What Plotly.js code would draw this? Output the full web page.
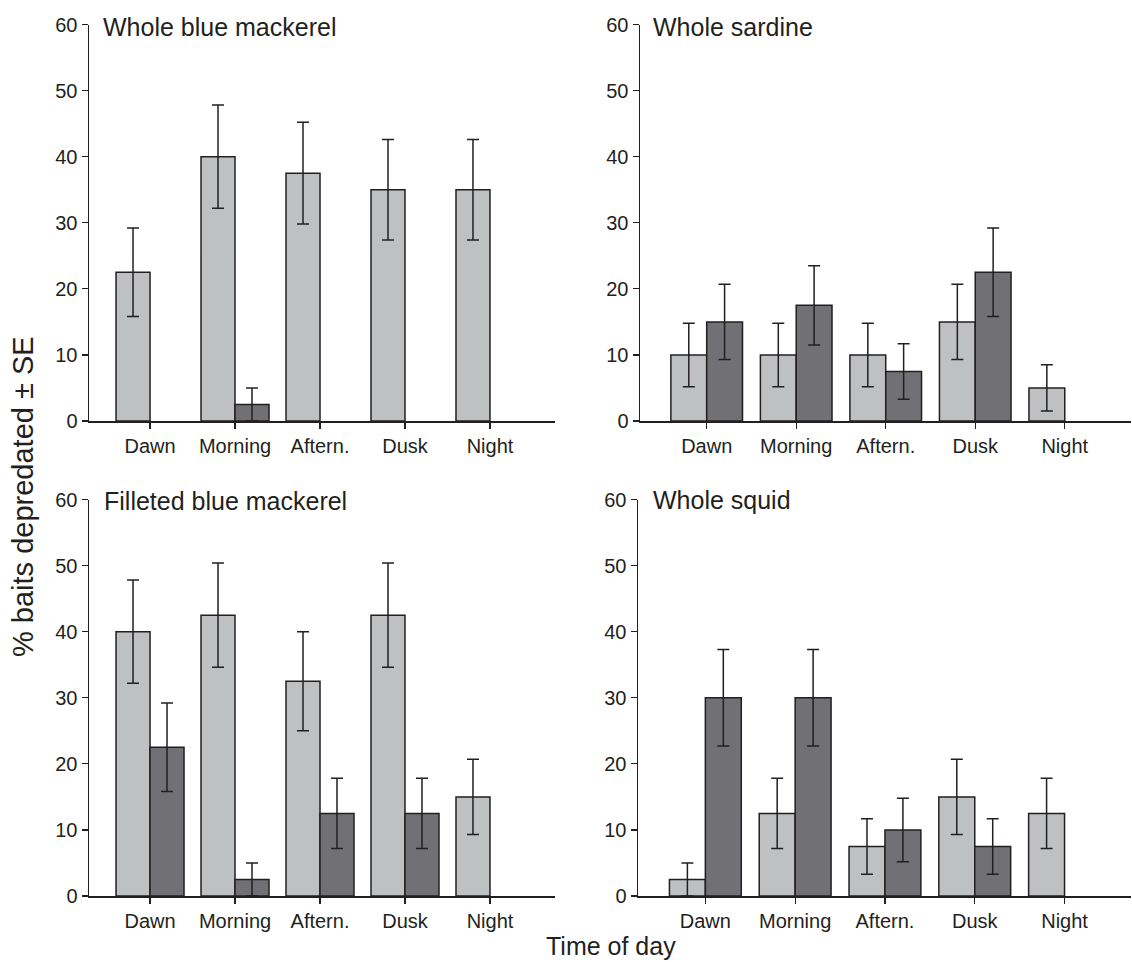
<!DOCTYPE html>
<html>
<head>
<meta charset="utf-8">
<script src="https://cdn.plot.ly/plotly-3.0.1.min.js"></script>
<style>html,body{margin:0;padding:0;background:#fff;}#chart{width:1132px;height:962px;}</style>
</head>
<body>
<div id="chart"></div>
<script>
const categories = ["Dawn", "Morning", "Aftern.", "Dusk", "Night"];
const panelTitles = ["Whole blue mackerel", "Whole sardine", "Filleted blue mackerel", "Whole squid"];

// Whole blue mackerel
const wbmLight = [22.5, 40, 37.5, 35, 35];
const wbmLightSE = [6.7, 7.8, 7.7, 7.6, 7.6];
const wbmDark = [0, 2.5, 0, 0, 0];
const wbmDarkSE = [0, 2.5, 0, 0, 0];

// Whole sardine
const wsLight = [10, 10, 10, 15, 5];
const wsLightSE = [4.8, 4.8, 4.8, 5.7, 3.5];
const wsDark = [15, 17.5, 7.5, 22.5, 0];
const wsDarkSE = [5.7, 6.0, 4.2, 6.7, 0];

// Filleted blue mackerel
const fbmLight = [40, 42.5, 32.5, 42.5, 15];
const fbmLightSE = [7.8, 7.9, 7.5, 7.9, 5.7];
const fbmDark = [22.5, 2.5, 12.5, 12.5, 0];
const fbmDarkSE = [6.7, 2.5, 5.3, 5.3, 0];

// Whole squid
const sqLight = [2.5, 12.5, 7.5, 15, 12.5];
const sqLightSE = [2.5, 5.3, 4.2, 5.7, 5.3];
const sqDark = [30, 30, 10, 7.5, 0];
const sqDarkSE = [7.3, 7.3, 4.8, 4.2, 0];

const yTicks = [0, 10, 20, 30, 40, 50, 60];

const LIGHT = "#bfc0c2", DARK = "#717075", INK = "#231f20";
const FONT = "Liberation Sans, Arial, sans-serif";

const panels = [
  {light: wbmLight, lse: wbmLightSE, dark: wbmDark, dse: wbmDarkSE, xa: "x", ya: "y"},
  {light: wsLight, lse: wsLightSE, dark: wsDark, dse: wsDarkSE, xa: "x2", ya: "y2"},
  {light: fbmLight, lse: fbmLightSE, dark: fbmDark, dse: fbmDarkSE, xa: "x3", ya: "y3"},
  {light: sqLight, lse: sqLightSE, dark: sqDark, dse: sqDarkSE, xa: "x4", ya: "y4"}
];

const traces = [];
panels.forEach(p => {
  [[p.light, p.lse, LIGHT], [p.dark, p.dse, DARK]].forEach(([vals, se, col]) => {
    // a value of 0 means no bar is drawn
    const shown = vals.map(v => (v === 0 ? null : v));
    const err = vals.map((v, i) => (v === 0 ? null : se[i]));
    traces.push({
      type: "bar", x: categories, y: shown, xaxis: p.xa, yaxis: p.ya,
      marker: {color: col, line: {color: INK, width: 1.5}},
      error_y: {type: "data", array: err, visible: true, color: INK, thickness: 1.5, width: 6},
      showlegend: false, hoverinfo: "skip"
    });
  });
});

function xAxis(domain, range, anchor) {
  return {
    domain: domain, range: range, anchor: anchor, type: "category",
    showline: true, linecolor: INK, linewidth: 1.5, ticks: "outside", ticklen: 6,
    tickcolor: INK, tickwidth: 1.2, showgrid: false, zeroline: false,
    tickfont: {family: FONT, size: 20, color: INK}, fixedrange: true
  };
}
function yAxis(domain, anchor) {
  return {
    domain: domain, range: [0, 60], anchor: anchor, tickvals: yTicks,
    showline: true, linecolor: INK, linewidth: 1.5, ticks: "outside", ticklen: 6,
    tickcolor: INK, tickwidth: 1.2, showgrid: false, zeroline: false,
    tickfont: {family: FONT, size: 20, color: INK}, fixedrange: true
  };
}

const H = 962, W = 1132;
const topDom = [(H - 421) / H, (H - 24.5) / H];
const botDom = [(H - 896) / H, (H - 499.5) / H];

const annots = [
  {text: panelTitles[0], x: 101 / W, y: (H - 27) / H},
  {text: panelTitles[1], x: 651 / W, y: (H - 27) / H},
  {text: panelTitles[2], x: 102 / W, y: (H - 501) / H},
  {text: panelTitles[3], x: 651 / W, y: (H - 500) / H}
].map(a => Object.assign(a, {xref: "paper", yref: "paper", xanchor: "left", yanchor: "middle",
  showarrow: false, font: {family: FONT, size: 25, color: INK}}));

annots.push({text: "Time of day", x: 611 / W, y: (H - 946) / H, xref: "paper", yref: "paper",
  xanchor: "center", yanchor: "middle", showarrow: false, font: {family: FONT, size: 25, color: INK}});
annots.push({text: "% baits depredated ± SE", x: 23 / W, y: (H - 497) / H, xref: "paper", yref: "paper",
  xanchor: "center", yanchor: "middle", textangle: -90, showarrow: false, font: {family: FONT, size: 29, color: INK}});

const layout = {
  width: W, height: H, margin: {l: 0, r: 0, t: 0, b: 0},
  paper_bgcolor: "#fff", plot_bgcolor: "#fff",
  barmode: "group", bargap: 0.2, bargroupgap: 0,
  xaxis: xAxis([89 / W, 555 / W], [-0.718, 4.765], "y"),
  yaxis: yAxis(topDom, "x"),
  xaxis2: xAxis([640 / W, 1131 / W], [-0.745, 4.74], "y2"),
  yaxis2: yAxis(topDom, "x2"),
  xaxis3: xAxis([89 / W, 555 / W], [-0.718, 4.765], "y3"),
  yaxis3: yAxis(botDom, "x3"),
  xaxis4: xAxis([638 / W, 1131 / W], [-0.75, 4.74], "y4"),
  yaxis4: yAxis(botDom, "x4"),
  annotations: annots
};

Plotly.newPlot("chart", traces, layout, {displayModeBar: false, staticPlot: true});
</script>
</body>
</html>
